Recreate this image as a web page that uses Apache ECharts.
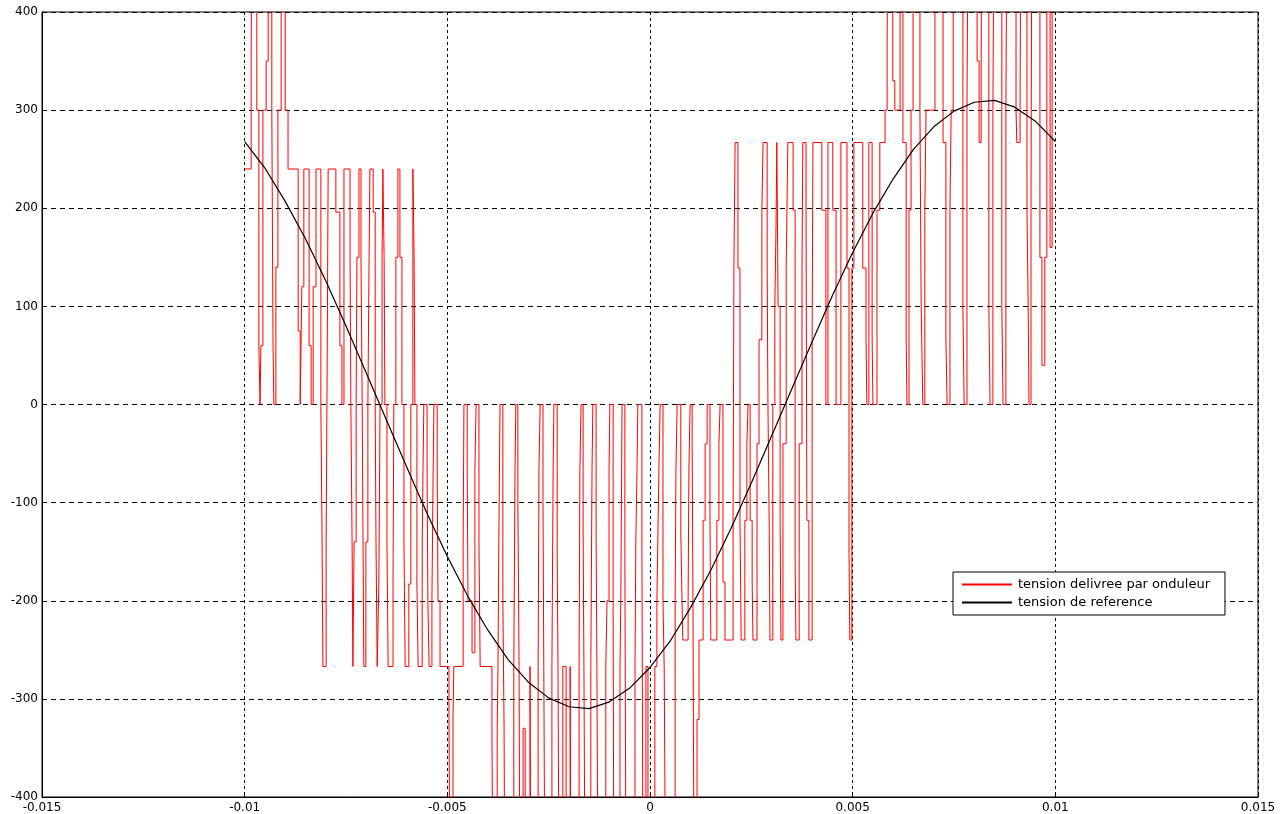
<!DOCTYPE html>
<html>
<head>
<meta charset="utf-8">
<title>tension onduleur</title>
<script src="https://cdn.jsdelivr.net/npm/echarts@6/dist/echarts.min.js"></script>
<style>
  html, body { margin: 0; padding: 0; background: #ffffff; }
  #chart { width: 1286px; height: 814px; }
</style>
</head>
<body>
<div id="chart"></div>
<script>
// Time in milliseconds, voltage in volts.
const seriesNames = ['tension delivree par onduleur', 'tension de reference'];

// Reference sine voltage, sampled every 0.5 ms.
const refTimeMs = [-10, -9.5, -9, -8.5, -8, -7.5, -7, -6.5, -6, -5.5, -5, -4.5, -4, -3.5, -3, -2.5, -2, -1.5, -1, -0.5,
  0, 0.5, 1, 1.5, 2, 2.5, 3, 3.5, 4, 4.5, 5, 5.5, 6, 6.5, 7, 7.5, 8, 8.5, 9, 9.5, 10];
const refVolts = [268, 241, 207, 169, 126, 80, 32, -16, -64, -111, -155, -195, -230, -260, -283, -299, -308, -310, -303, -289,
  -268, -241, -207, -169, -126, -80, -32, 16, 64, 111, 155, 195, 230, 260, 283, 299, 308, 310, 303, 289, 268];

// Inverter output: each pair is [switching instant (ms), level held until the next instant (V)].
const inverterSteps = [
  [-10.00,240],[-9.84,350],[-9.82,533],[-9.70,300],[-9.65,60],[-9.62,0],[-9.60,60],[-9.55,300],[-9.47,350],[-9.42,533],
  [-9.33,300],[-9.30,60],[-9.28,0],[-9.23,140],[-9.18,300],[-9.10,533],[-9.00,300],[-8.93,240],[-8.68,75],[-8.63,0],
  [-8.59,120],[-8.54,240],[-8.41,60],[-8.36,0],[-8.31,120],[-8.24,240],[-8.12,0],[-8.09,-140],[-8.07,-267],[-7.99,-140],
  [-7.97,0],[-7.94,240],
  [-7.75,196],[-7.65,60],[-7.60,0],[-7.55,240],[-7.40,150],[-7.38,0],[-7.35,-140],[-7.33,-267],[-7.30,-140],[-7.25,0],
  [-7.23,150],[-7.18,240],[-7.13,150],[-7.10,0],[-7.08,-140],[-7.06,-267],[-7.01,-140],[-6.96,0],[-6.93,150],[-6.91,240],
  [-6.83,196],[-6.78,0],[-6.76,-140],[-6.73,-267],[-6.69,-183],[-6.66,0],[-6.61,150],[-6.59,240],[-6.56,150],[-6.54,0],
  [-6.49,-140],[-6.46,-267],[-6.34,-183],[-6.32,0],[-6.27,150],[-6.22,240],[-6.17,150],[-6.12,0],[-6.07,-140],[-6.04,-267],
  [-5.95,-183],[-5.90,0],[-5.85,240],[-5.82,150],[-5.80,0],[-5.75,-183],[-5.72,-267],
  [-5.62,-140],[-5.60,-66],[-5.58,0],[-5.50,-66],[-5.48,-200],[-5.45,-267],[-5.38,-200],[-5.35,-66],[-5.33,0],[-5.25,-66],
  [-5.23,-200],[-5.18,-267],[-4.96,-320],[-4.93,-533],[-4.86,-320],[-4.84,-267],[-4.61,-140],[-4.59,0],[-4.51,-66],[-4.49,-200],
  [-4.39,-253],[-4.32,-66],[-4.29,0],[-4.22,-140],[-4.19,-267],[-3.90,-330],[-3.87,-533],[-3.77,-330],[-3.75,-267],[-3.73,-140],
  [-3.70,0],[-3.63,-200],[-3.60,-330],[-3.58,-533],
  [-3.36,-267],[-3.33,-66],[-3.31,0],[-3.26,-100],[-3.23,-267],[-3.21,-533],[-3.13,-330],[-3.08,-533],[-2.96,-267],[-2.94,-533],
  [-2.76,-267],[-2.74,-66],[-2.71,0],[-2.64,-100],[-2.62,-267],[-2.59,-533],[-2.42,-267],[-2.39,-66],[-2.37,0],[-2.29,-150],
  [-2.27,-267],[-2.24,-533],[-2.15,-267],[-2.07,-533],[-1.97,-267],[-1.95,-533],[-1.75,-267],[-1.73,-66],[-1.70,0],[-1.65,-130],
  [-1.63,-267],[-1.60,-533],[-1.46,-267],[-1.43,-66],[-1.41,0],[-1.33,-130],[-1.31,-267],[-1.28,-533],
  [-1.09,-267],[-1.06,-200],[-1.01,-66],[-0.99,0],[-0.91,-200],[-0.89,-533],[-0.74,-267],[-0.72,-200],[-0.69,0],[-0.62,-150],
  [-0.59,-533],[-0.37,-267],[-0.35,-140],[-0.32,-66],[-0.30,0],[-0.20,-140],[-0.17,-533],[-0.10,-267],[-0.05,-533],[0.12,-267],
  [0.17,-200],[0.20,-120],[0.22,-66],[0.25,0],[0.32,-200],[0.35,-267],[0.39,-533],[0.62,-200],[0.64,-66],[0.67,0],
  [0.76,-130],[0.79,-200],[0.81,-240],[0.94,-200],[0.96,-66],[0.99,0],
  [1.04,-40],[1.06,-200],[1.09,-533],[1.16,-321],[1.21,-240],[1.31,-118],[1.36,-40],[1.41,0],[1.48,-118],[1.50,-240],
  [1.65,-118],[1.70,-40],[1.73,0],[1.80,-181],[1.85,-240],[2.05,-118],[2.07,139],[2.10,267],[2.17,139],[2.22,-118],
  [2.25,-240],[2.34,-118],[2.39,-40],[2.42,0],[2.47,-118],[2.52,-181],[2.54,-240],[2.64,-40],[2.69,66],[2.76,198],
  [2.79,267],[2.89,139],[2.91,0],[2.94,-118],[2.96,-240],[3.03,0],[3.08,100],[3.11,183],[3.13,267],[3.16,100],
  [3.21,-118],[3.23,-240],[3.28,-40],[3.36,139],[3.40,267],[3.53,198],[3.58,-155],[3.60,-240],[3.68,-40],[3.75,139],
  [3.77,267],[3.85,198],[3.87,-118],[3.92,-240],[4.00,68],[4.02,267],[4.24,198],[4.34,0],[4.39,267],[4.51,198],
  [4.59,0],[4.71,267],[4.86,139],[4.91,-152],[4.93,-240],[4.98,139],[5.03,267],[5.25,139],[5.33,68],[5.35,0],[5.40,267],
  [5.48,68],[5.50,0],[5.60,198],[5.67,267],[5.80,300],[5.85,367],[5.87,533],[5.99,330],[6.04,300],[6.17,533],
  [6.24,267],[6.32,68],[6.34,0],[6.39,198],[6.44,300],[6.49,533],[6.66,300],[6.69,100],[6.73,0],[6.78,198],
  [6.81,300],[7.03,533],[7.23,267],[7.30,68],[7.33,0],[7.40,198],[7.43,300],[7.48,533],
  [7.72,100],[7.75,0],[7.82,300],[7.85,533],[8.07,350],[8.12,267],[8.17,350],[8.19,533],[8.36,100],[8.39,0],
  [8.46,300],[8.49,533],[8.68,100],[8.71,0],[8.78,300],[8.81,533],[9.03,300],[9.05,267],[9.13,300],[9.15,533],
  [9.30,200],[9.33,100],[9.35,0],[9.40,200],[9.42,533],[9.62,150],[9.67,40],[9.74,150],[9.79,533],[9.87,160],
  [9.92,533],[10.00,533]
];

// Axis ranges (ms on x, V on y)
const xRange = [-15, 15, 5];
const yRange = [-400, 400, 100];

const chart = echarts.init(document.getElementById('chart'), null, { renderer: 'canvas' });

const refData = refTimeMs.map((t, i) => [t, refVolts[i]]);
const labelFont = 'DejaVu Sans, Liberation Sans, sans-serif';

chart.setOption({
  animation: false,
  backgroundColor: '#ffffff',
  grid: {
    left: 42, right: 28, top: 12, bottom: 17,
    show: true, borderColor: '#000', borderWidth: 1, backgroundColor: '#ffffff'
  },
  legend: {
    orient: 'vertical',
    left: 953, top: 572,
    padding: [6, 15, 6, 9],
    itemGap: 5,
    itemWidth: 50,
    itemHeight: 2,
    icon: 'rect',
    borderColor: '#000', borderWidth: 1,
    backgroundColor: '#ffffff',
    textStyle: { fontFamily: labelFont, fontSize: 13, color: '#000', padding: [0, 0, 0, 1] },
    data: seriesNames
  },
  xAxis: {
    type: 'value',
    min: xRange[0], max: xRange[1], interval: xRange[2],
    axisLine: { show: true, onZero: false, lineStyle: { color: '#000', width: 1 } },
    axisTick: { show: true, inside: true, length: 5, lineStyle: { color: '#000' } },
    axisLabel: {
      show: true, showMinLabel: true, showMaxLabel: true, margin: 5,
      fontFamily: labelFont, fontSize: 12, color: '#000',
      formatter: v => String(v / 1000)
    },
    splitLine: { show: true, lineStyle: { color: '#000', width: 1, type: [3, 3] } }
  },
  yAxis: {
    type: 'value',
    min: yRange[0], max: yRange[1], interval: yRange[2],
    axisLine: { show: true, onZero: false, lineStyle: { color: '#000', width: 1 } },
    axisTick: { show: true, inside: true, length: 5, lineStyle: { color: '#000' } },
    axisLabel: {
      show: true, showMinLabel: true, showMaxLabel: true, margin: 4,
      fontFamily: labelFont, fontSize: 12, color: '#000'
    },
    splitLine: { show: true, lineStyle: { color: '#000', width: 1, type: [5, 4] } }
  },
  series: [
    {
      name: seriesNames[0],
      type: 'line',
      step: 'end',
      data: inverterSteps,
      symbol: 'none',
      clip: true,
      color: '#ff0000',
      lineStyle: { color: '#ff0000', width: 1 },
      z: 2
    },
    {
      name: seriesNames[1],
      type: 'line',
      data: refData,
      symbol: 'none',
      smooth: false,
      clip: true,
      color: '#000000',
      lineStyle: { color: '#000000', width: 1.2 },
      z: 3
    }
  ]
});
</script>
</body>
</html>
